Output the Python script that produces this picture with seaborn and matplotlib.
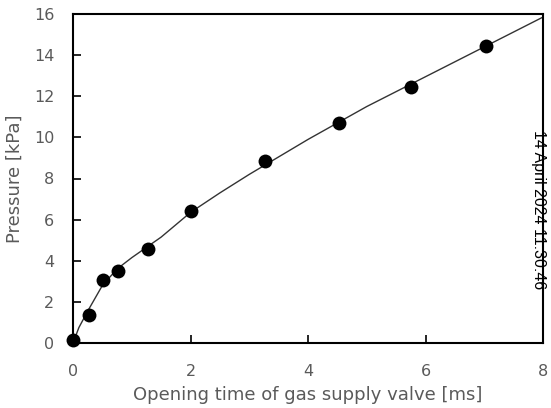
import matplotlib
matplotlib.use("Agg")
import matplotlib.pyplot as plt
import seaborn as sns
import pandas as pd

# measured points
time_ms = [0.0, 0.27, 0.51, 0.77, 1.28, 2.0, 3.27, 4.53, 5.75, 7.03]
pressure_kpa = [0.15, 1.38, 3.08, 3.48, 4.55, 6.42, 8.83, 10.7, 12.45, 14.45]

# fitted curve
curve_x = [0.0, 0.1, 0.25, 0.5, 0.75, 1.0, 1.25, 1.5, 2.0, 2.5, 3.0, 3.5, 4.0, 5.0, 6.0, 7.0, 8.0]
curve_y = [0.0, 0.75, 1.55, 2.8, 3.6, 4.15, 4.65, 5.15, 6.35, 7.3, 8.2, 9.05, 9.9, 11.5, 12.95, 14.4, 15.85]

xticks = [0, 2, 4, 6, 8]
yticks = [0, 2, 4, 6, 8, 10, 12, 14, 16]
timestamp = "14 April 2024 11:30:46"

sns.set_theme(style="white")
plt.rcParams['font.family'] = ['DejaVu Sans']

fig = plt.figure(figsize=(5.51, 4.08), dpi=100)
ax = fig.add_axes([0.1325, 0.1593, 0.853, 0.8064])

df_pts = pd.DataFrame({"t": time_ms, "p": pressure_kpa})
df_fit = pd.DataFrame({"t": curve_x, "p": curve_y})

sns.lineplot(data=df_fit, x="t", y="p", ax=ax, color="#333333", linewidth=1.0, sort=False, zorder=2)
sns.scatterplot(data=df_pts, x="t", y="p", ax=ax, color="black", s=100, edgecolor="black", linewidth=0, zorder=3, clip_on=False)

ax.set_xlim(0, 8)
ax.set_ylim(0, 16)
ax.set_xticks(xticks)
ax.set_yticks(yticks)
ax.set_xticklabels([str(v) for v in xticks])
ax.set_yticklabels([str(v) for v in yticks])

gray = "#5a5a5a"
ax.tick_params(axis="both", direction="in", length=6, width=1.2, color="black",
               labelsize=11.5, labelcolor=gray, top=False, right=False, bottom=True, left=True)
ax.tick_params(axis="x", pad=15)
ax.tick_params(axis="y", pad=13.5)
for sp in ax.spines.values():
    sp.set_color("black")
    sp.set_linewidth(1.5)

ax.set_xlabel("Opening time of gas supply valve [ms]", fontsize=13, color=gray, labelpad=5)
ax.set_ylabel("Pressure [kPa]", fontsize=13, color=gray, labelpad=7)

fig.text(0.977, 0.485, timestamp, rotation=-90, fontsize=11.5, color="black",
         ha="center", va="center", family=["Liberation Sans", "DejaVu Sans"])

fig.savefig("out.png", dpi=100)
